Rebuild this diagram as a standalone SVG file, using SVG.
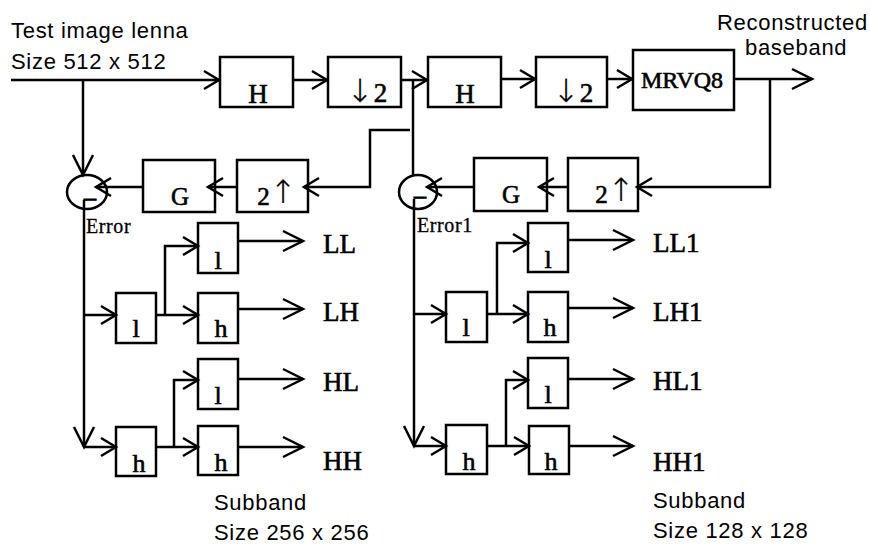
<svg xmlns="http://www.w3.org/2000/svg" width="870" height="546" viewBox="0 0 870 546">
<style>
.bx{fill:none;stroke:#000;stroke-width:2.5}
.ln{fill:none;stroke:#000;stroke-width:2.5}
.s{font-family:"Liberation Sans",Arial,sans-serif;font-size:22px;letter-spacing:0.7px;fill:#000}
.t{font-family:"Liberation Serif","Times New Roman","DejaVu Serif",serif;fill:#000;stroke:#000;stroke-width:0.6px;text-anchor:middle}
.ar{font-family:"DejaVu Sans",sans-serif;font-weight:200;font-size:32px;stroke-width:0.2px}
.big{font-size:27px}
.mid{font-size:25px}
.sm{font-size:26px}
.mn{font-size:24px;stroke-width:1px}
.lab{font-family:"Liberation Serif","Times New Roman",serif;font-size:27px;fill:#000;stroke:#000;stroke-width:0.6px}
.err{font-family:"Liberation Serif","Times New Roman",serif;font-size:20px;fill:#000;letter-spacing:0.6px;stroke:#000;stroke-width:0.3px}
</style>
<defs>
<marker id="a" markerUnits="userSpaceOnUse" markerWidth="40" markerHeight="40" viewBox="-20 -20 40 40" refX="0" refY="0" orient="auto" overflow="visible">
<path d="M-15,-9 L0,0 L-15,9" fill="none" stroke="#000" stroke-width="2.5"/>
</marker>
<marker id="b" markerUnits="userSpaceOnUse" markerWidth="50" markerHeight="50" viewBox="-25 -25 50 50" refX="0" refY="0" orient="auto" overflow="visible">
<path d="M-20,-10 L0,0 L-20,10" fill="none" stroke="#000" stroke-width="2.5"/>
</marker>
</defs>
<rect width="870" height="546" fill="#fff"/>

<g id="connectors">
<path class="ln" d="M11,80 H219" marker-end="url(#a)"/>
<path class="ln" d="M293,80 H327" marker-end="url(#a)"/>
<path class="ln" d="M401,80 H427" marker-end="url(#a)"/>
<path class="ln" d="M501,79 H535" marker-end="url(#a)"/>
<path class="ln" d="M607,79 H632" marker-end="url(#a)"/>
<path class="ln" d="M734,79 H812" marker-end="url(#b)"/>
<path class="ln" d="M770,79 V187 H637" marker-end="url(#a)"/>
<path class="ln" d="M568,187 H539" marker-end="url(#a)"/>
<path class="ln" d="M474,187 H427" marker-end="url(#a)"/>
<path class="ln" d="M413,80 V175"/>
<path class="ln" d="M410,130 H370 V187 H304" marker-end="url(#a)"/>
<path class="ln" d="M237,187 H208" marker-end="url(#a)"/>
<path class="ln" d="M143,187 H96" marker-end="url(#a)"/>
<path class="ln" d="M83,80 V175" marker-end="url(#b)"/>
<path class="ln" d="M84,200 V447" marker-end="url(#b)"/>
<path class="ln" d="M84,447 H116" marker-end="url(#a)"/>
<path class="ln" d="M84,315 H116" marker-end="url(#a)"/>
<path class="ln" d="M156,315 H198" marker-end="url(#a)"/>
<path class="ln" d="M165,315 V246 H198" marker-end="url(#a)"/>
<path class="ln" d="M156,447 H198" marker-end="url(#a)"/>
<path class="ln" d="M174,447 V380 H198" marker-end="url(#a)"/>
<path class="ln" d="M238,241 H303" marker-end="url(#b)"/>
<path class="ln" d="M238,309 H303" marker-end="url(#b)"/>
<path class="ln" d="M238,379 H303" marker-end="url(#b)"/>
<path class="ln" d="M238,447 H303" marker-end="url(#b)"/>
<path class="ln" d="M414,199 V446" marker-end="url(#b)"/>
<path class="ln" d="M414,446 H446" marker-end="url(#a)"/>
<path class="ln" d="M414,314 H446" marker-end="url(#a)"/>
<path class="ln" d="M487,314 H528" marker-end="url(#a)"/>
<path class="ln" d="M497,314 V243 H528" marker-end="url(#a)"/>
<path class="ln" d="M487,446 H529" marker-end="url(#a)"/>
<path class="ln" d="M506,446 V380 H528" marker-end="url(#a)"/>
<path class="ln" d="M568,240 H633" marker-end="url(#b)"/>
<path class="ln" d="M568,308 H633" marker-end="url(#b)"/>
<path class="ln" d="M568,379 H633" marker-end="url(#b)"/>
<path class="ln" d="M569,446 H633" marker-end="url(#b)"/>
</g>

<g id="input-label">
<text class="s" x="11" y="38">Test image lenna</text>
<text class="s" x="11" y="69">Size 512 x 512</text>
</g>
<g id="output-label">
<text class="s" x="717" y="30">Reconstructed</text>
<text class="s" x="745" y="55">baseband</text>
</g>

<g id="H1"><rect class="bx" x="220" y="57" width="73" height="50"/><text class="t big" x="258" y="103">H</text></g>
<g id="down1"><rect class="bx" x="328" y="57" width="73" height="50"/><text class="t big" x="367" y="102"><tspan class="ar">↓</tspan>2</text></g>
<g id="H2"><rect class="bx" x="428" y="57" width="73" height="50"/><text class="t big" x="465" y="103">H</text></g>
<g id="down2"><rect class="bx" x="536" y="57" width="71" height="50"/><text class="t big" x="573" y="102"><tspan class="ar">↓</tspan>2</text></g>
<g id="MRVQ8"><rect class="bx" x="633" y="50" width="101" height="60"/><text class="t" style="font-size:24px" x="682" y="88">MRVQ8</text></g>

<g id="G1"><rect class="bx" x="143" y="160" width="72" height="52"/><text class="t mid" x="180" y="205">G</text></g>
<g id="up1"><rect class="bx" x="237" y="160" width="71" height="52"/><text class="t mid" x="277" y="205">2<tspan class="ar" dy="-2">↑</tspan></text></g>
<g id="G2"><rect class="bx" x="474" y="158" width="73" height="53"/><text class="t mid" x="511" y="203">G</text></g>
<g id="up2"><rect class="bx" x="568" y="158" width="70" height="53"/><text class="t mid" x="615" y="203">2<tspan class="ar" dy="-2">↑</tspan></text></g>

<g id="sum1"><ellipse class="bx" cx="87" cy="192" rx="20" ry="17"/><text class="t mn" x="90" y="205">–</text></g>
<g id="sum2"><ellipse class="bx" cx="418" cy="192" rx="19" ry="17"/><text class="t mn" x="420" y="203">–</text></g>
<text class="err" x="86" y="233">Error</text>
<text class="err" x="417" y="232">Error1</text>

<g id="l1"><rect class="bx" x="116" y="293" width="40" height="50"/><text class="t sm" x="136" y="337">l</text></g>
<g id="h1"><rect class="bx" x="116" y="427" width="40" height="49"/><text class="t sm" x="139" y="472">h</text></g>
<g id="LLb"><rect class="bx" x="198" y="223" width="40" height="50"/><text class="t sm" x="218" y="269">l</text></g>
<g id="LHb"><rect class="bx" x="198" y="293" width="40" height="50"/><text class="t sm" x="221" y="337">h</text></g>
<g id="HLb"><rect class="bx" x="198" y="359" width="40" height="50"/><text class="t sm" x="218" y="404">l</text></g>
<g id="HHb"><rect class="bx" x="198" y="426" width="40" height="49"/><text class="t sm" x="221" y="471">h</text></g>

<g id="l2"><rect class="bx" x="446" y="292" width="41" height="50"/><text class="t sm" x="466" y="336">l</text></g>
<g id="h2"><rect class="bx" x="446" y="425" width="41" height="49"/><text class="t sm" x="469" y="470">h</text></g>
<g id="LL1b"><rect class="bx" x="528" y="223" width="40" height="49"/><text class="t sm" x="548" y="268">l</text></g>
<g id="LH1b"><rect class="bx" x="528" y="292" width="40" height="50"/><text class="t sm" x="550" y="336">h</text></g>
<g id="HL1b"><rect class="bx" x="528" y="358" width="40" height="50"/><text class="t sm" x="548" y="403">l</text></g>
<g id="HH1b"><rect class="bx" x="529" y="426" width="40" height="48"/><text class="t sm" x="551" y="470">h</text></g>

<g id="subband-labels">
<text class="lab" x="323" y="253">LL</text>
<text class="lab" x="323" y="321">LH</text>
<text class="lab" x="323" y="391">HL</text>
<text class="lab" x="323" y="470">HH</text>
<text class="lab" x="653" y="252">LL1</text>
<text class="lab" x="653" y="321">LH1</text>
<text class="lab" x="653" y="390">HL1</text>
<text class="lab" x="653" y="471">HH1</text>
</g>
<g id="size-labels">
<text class="s" x="214" y="510">Subband</text>
<text class="s" x="214" y="540">Size 256 x 256</text>
<text class="s" x="653" y="508">Subband</text>
<text class="s" x="653" y="538">Size 128 x 128</text>
</g>
</svg>
